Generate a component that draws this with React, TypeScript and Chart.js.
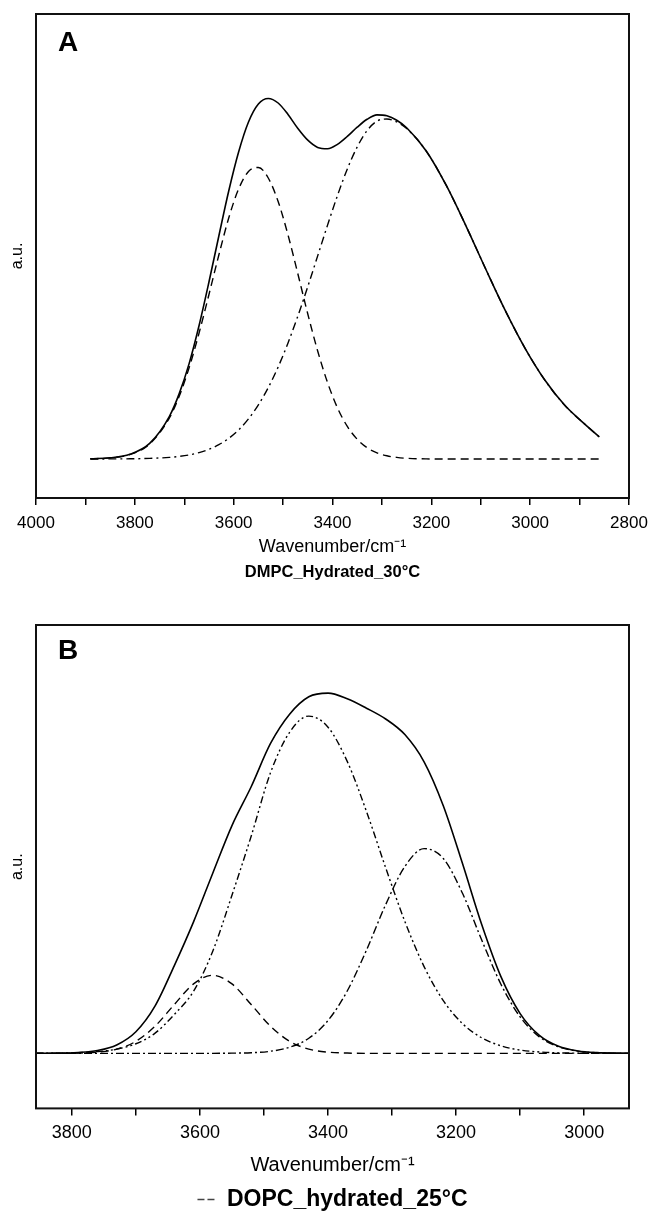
import React, { useEffect, useRef } from "react";
import { Chart, registerables } from "chart.js";

Chart.register(...registerables);

const FONT = '"Liberation Sans", Arial, Helvetica, sans-serif';

// ---------- Panel A : DMPC_Hydrated_30°C ----------
const wavenumbersA = [
  3890, 3850, 3810, 3770, 3730, 3710, 3690, 3670, 3650, 3630, 3610, 3590, 3570, 3550, 3530,
  3510, 3490, 3470, 3450, 3430, 3410, 3390, 3370, 3350, 3330, 3310, 3290, 3270, 3250,
  3210, 3170, 3130, 3090, 3050, 3010, 2970, 2930, 2890, 2860,
];
const totalA = [
  0.2, 1.2, 4.7, 15.6, 42.7, 65.6, 95.6, 133.5, 177.0, 223.0, 268.0, 307.0, 337.0, 355.0, 360.5,
  356.0, 344.5, 330.5, 318.8, 311.6, 310.3, 314.6, 322.6, 331.8, 339.7, 344.1, 343.2, 338.7, 331.2,
  307.8, 273.8, 233.2, 190.0, 148.1, 110.4, 78.7, 53.7, 35.1, 22.0,
];
const dashedA = [
  0.2, 1.1, 4.5, 15.0, 41.1, 63.0, 91.5, 126.0, 164.5, 204.0, 241.0, 270.0, 287.5, 291.5, 281.0,
  257.5, 224.0, 185.0, 145.0, 108.0, 76.4, 51.2, 32.6, 19.7, 11.3, 6.2, 3.2, 1.6, 0.7,
  0.1, 0, 0, 0, 0, 0, 0, 0, 0, 0,
];
const dashDotA = [
  0, 0.1, 0.2, 0.6, 1.6, 2.6, 4.1, 6.4, 9.7, 14.3, 20.6, 29.0, 40.1, 54.1, 71.4,
  92.0, 116.1, 143.1, 172.4, 203.1, 233.9, 263.4, 290.0, 312.1, 328.4, 337.9, 340.0, 337.1, 330.5,
  307.7, 273.8, 233.2, 190.0, 148.1, 110.4, 78.7, 53.7, 35.1, 22.0,
];
const ticksA = [2800, 2900, 3000, 3100, 3200, 3300, 3400, 3500, 3600, 3700, 3800, 3900, 4000];

// ---------- Panel B : DOPC_hydrated_25°C ----------
const wavenumbersB = [
  3856, 3820, 3790, 3760, 3730, 3700, 3670, 3640, 3610, 3580, 3550, 3520, 3490, 3460, 3430, 3400,
  3370, 3340, 3310, 3280, 3250, 3220, 3190, 3160, 3130, 3100, 3070, 3040, 3010, 2980, 2950, 2930,
];
const totalB = [
  0.1, 0.2, 0.9, 2.9, 8.4, 21.6, 47.4, 87.7, 131.4, 180.0, 227.6, 266.4, 309.4, 338.9, 356.3, 359.9,
  354.3, 344.9, 334.1, 318.5, 291.3, 247.4, 189.6, 128.7, 76.6, 39.7, 17.9, 7.0, 2.4, 0.7, 0.2, 0.1,
];
const dashedB = [
  0, 0, 0.3, 1.2, 4.2, 12.0, 27.2, 48.8, 69.4, 78.0, 69.4, 48.8, 27.2, 12.0, 4.2, 1.2,
  0.3, 0, 0, 0, 0, 0, 0, 0, 0, 0, 0, 0, 0, 0, 0, 0,
];
const dashDotDotB = [
  0.1, 0.2, 0.6, 1.7, 4.2, 9.6, 20.2, 38.9, 62.0, 102.0, 158.0, 217.0, 280.1, 320.8, 337.0, 325.9,
  291.7, 241.8, 185.5, 131.8, 86.7, 52.7, 29.7, 15.5, 7.5, 3.3, 1.4, 0.5, 0.2, 0.1, 0, 0,
];
const dashDotB = [
  0, 0, 0, 0, 0, 0, 0, 0, 0, 0, 0.2, 0.6, 2.1, 6.1, 15.1, 32.8,
  62.3, 103.1, 148.6, 186.7, 204.6, 194.7, 159.9, 113.2, 69.1, 36.4, 16.5, 6.5, 2.2, 0.6, 0.2, 0.1,
];
const ticksB = [3000, 3100, 3200, 3300, 3400, 3500, 3600, 3700, 3800];

const toPoints = (xs: number[], ys: number[]) => xs.map((x, i) => ({ x, y: ys[i] }));

const framePlugin = {
  id: "frameBox",
  afterDraw(chart: any, _args: any, opts: any) {
    const { ctx, chartArea } = chart;
    const { left, top, right, bottom } = chartArea;
    ctx.save();
    ctx.strokeStyle = "#111";
    ctx.lineWidth = 2;
    ctx.setLineDash([]);
    ctx.strokeRect(left, top, right - left, bottom - top);
    if (opts && opts.letter) {
      ctx.fillStyle = "#000";
      ctx.font = `bold 28px ${FONT}`;
      ctx.textBaseline = "middle";
      ctx.textAlign = "left";
      ctx.fillText(opts.letter, left + 22, top + (opts.letterDy || 29));
    }
    ctx.restore();
  },
};

function lineDs(label: string, data: any[], dash: number[], width: number) {
  return {
    label,
    data,
    borderColor: "#000",
    backgroundColor: "#000",
    borderWidth: width,
    borderDash: dash,
    pointRadius: 0,
    fill: false,
    cubicInterpolationMode: "monotone" as const,
  };
}

function xScale(
  min: number,
  max: number,
  tickList: number[],
  tickSize: number,
  tickPad: number,
  titleSize: number,
  titlePad: any
) {
  return {
    type: "linear" as const,
    reverse: true,
    min,
    max,
    afterBuildTicks: (scale: any) => {
      scale.ticks = tickList.map((v) => ({ value: v }));
    },
    ticks: {
      autoSkip: false,
      maxRotation: 0,
      minRotation: 0,
      padding: tickPad,
      color: "#000",
      font: { family: FONT, size: tickSize },
      callback: (v: any) => (Number(v) % 200 === 0 ? String(v) : ""),
    },
    grid: {
      display: true,
      drawOnChartArea: false,
      drawTicks: true,
      tickLength: 7,
      color: "#000",
      lineWidth: 1.5,
    },
    border: { display: false },
    title: {
      display: true,
      text: "Wavenumber/cm\u207B\u00B9",
      color: "#000",
      font: { family: FONT, size: titleSize },
      padding: titlePad,
    },
  };
}

function yScale(min: number, max: number) {
  return {
    type: "linear" as const,
    min,
    max,
    ticks: { display: false },
    grid: { display: false, drawTicks: false },
    border: { display: false },
    title: {
      display: true,
      text: "a.u.",
      color: "#000",
      font: { family: FONT, size: 16 },
      padding: { top: 0, bottom: 9 },
    },
  };
}

function configA(): any {
  return {
    type: "line",
    data: {
      datasets: [
        lineDs("Total", toPoints(wavenumbersA, totalA), [], 1.6),
        lineDs("Component 1", toPoints(wavenumbersA, dashedA), [8, 5], 1.4),
        lineDs("Component 2", toPoints(wavenumbersA, dashDotA), [8, 4, 2, 4], 1.4),
      ],
    },
    options: {
      responsive: false,
      animation: false,
      layout: { padding: { top: 14, left: 7.8, right: 22, bottom: 17.2 } },
      scales: {
        x: xScale(2800, 4000, ticksA, 17, 8, 18, { top: -5, bottom: 0 }),
        y: yScale(-39, 445),
      },
      plugins: {
        legend: { display: false },
        tooltip: { enabled: false },
        title: {
          display: true,
          fullSize: false,
          position: "bottom",
          text: "DMPC_Hydrated_30°C",
          color: "#000",
          font: { family: FONT, size: 16.5, weight: "bold" },
          padding: { top: 5, bottom: 0 },
        },
        frameBox: { letter: "A", letterDy: 29 },
      },
    },
    plugins: [framePlugin],
  };
}

function configB(): any {
  return {
    type: "line",
    data: {
      datasets: [
        lineDs("Total", toPoints(wavenumbersB, totalB), [], 1.6),
        lineDs("Component 1", toPoints(wavenumbersB, dashedB), [8, 5], 1.4),
        lineDs("Component 2", toPoints(wavenumbersB, dashDotDotB), [7, 3, 2, 3, 2, 3], 1.4),
        lineDs("Component 3", toPoints(wavenumbersB, dashDotB), [8, 3, 2, 3], 1.4),
      ],
    },
    options: {
      responsive: false,
      animation: false,
      layout: { padding: { top: 25, left: 7.8, right: 22, bottom: 0 } },
      scales: {
        x: xScale(2930, 3856, ticksB, 18, 7, 20, { top: 2, bottom: 7 }),
        y: yScale(-55, 428),
      },
      plugins: {
        tooltip: { enabled: false },
        legend: {
          display: true,
          fullSize: false,
          position: "bottom",
          labels: {
            usePointStyle: true,
            pointStyleWidth: 18,
            padding: 4,
            color: "#000",
            font: { family: FONT, size: 23, weight: "bold" },
            generateLabels: () => [
              {
                text: "DOPC_hydrated_25°C",
                fillStyle: "#444",
                strokeStyle: "#444",
                lineWidth: 1.5,
                lineDash: [7, 3],
                pointStyle: "line",
                hidden: false,
                datasetIndex: 0,
              },
            ],
          },
        },
        frameBox: { letter: "B", letterDy: 26 },
      },
    },
    plugins: [framePlugin],
  };
}

function Panel(props: { top: number; height: number; make: () => any }) {
  const ref = useRef<HTMLCanvasElement | null>(null);
  useEffect(() => {
    if (!ref.current) return;
    const chart = new Chart(ref.current, props.make());
    return () => chart.destroy();
  }, []);
  return (
    <div style={{ position: "absolute", left: 0, top: props.top, width: 651, height: props.height }}>
      <canvas ref={ref} width={651} height={props.height} style={{ display: "block" }} />
    </div>
  );
}

export default function App() {
  return (
    <div
      style={{
        position: "absolute",
        left: 0,
        top: 0,
        width: 651,
        height: 1211,
        overflow: "hidden",
        background: "#fff",
      }}
    >
      <Panel top={0} height={600} make={configA} />
      <Panel top={600} height={621} make={configB} />
    </div>
  );
}
